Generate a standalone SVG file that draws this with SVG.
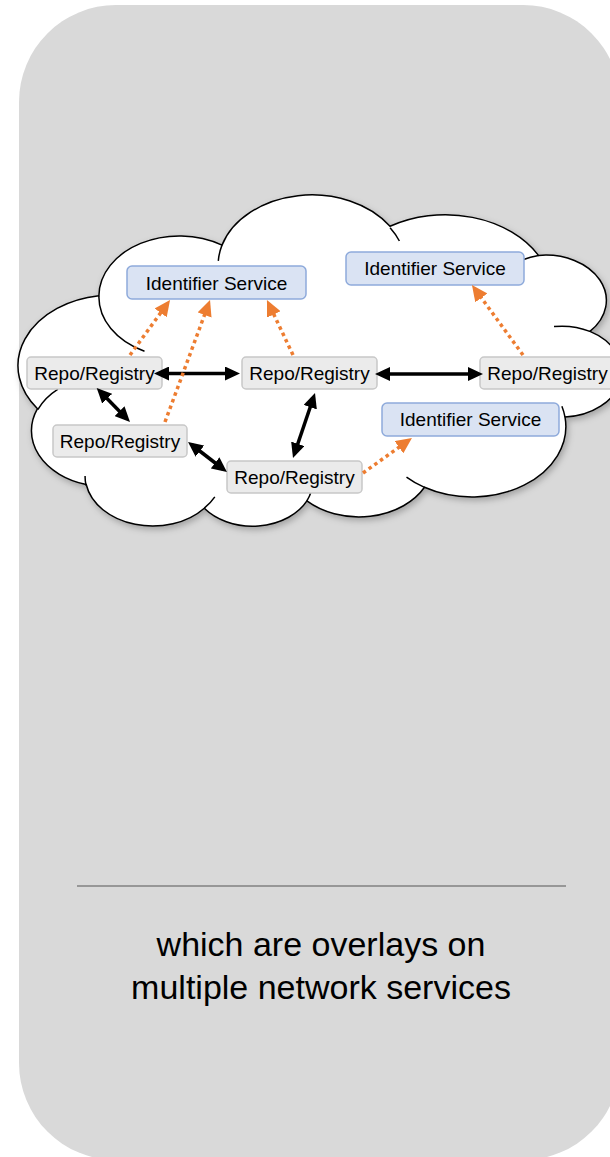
<svg xmlns="http://www.w3.org/2000/svg" width="610" height="1157" viewBox="0 0 610 1157">
  <defs>
    <style>
      .bg { fill: #d9d9d9; }
      .cloud { fill: #ffffff; stroke: #000000; stroke-width: 1.5; }
      .cloud-inner { fill: none; stroke: #000000; stroke-width: 1.5; }
      .repo { fill: #ebebeb; stroke: #c8c8c8; stroke-width: 1.5; }
      .ids { fill: #dae3f3; stroke: #8eaadb; stroke-width: 1.5; }
      .lbl { font-family: "Liberation Sans", Arial, sans-serif; font-size: 19px; fill: #000000; text-anchor: middle; }
      .cap { font-family: "Liberation Sans", Arial, sans-serif; font-size: 34px; fill: #000000; text-anchor: middle; }
      .blk { fill: none; stroke: #000000; stroke-width: 3.5; marker-start: url(#ah); marker-end: url(#ah); }
      .org { fill: none; stroke: #ed7d31; stroke-width: 3.5; stroke-dasharray: 3.5 3.5; marker-end: url(#oh); }
    </style>
    <marker id="ah" markerUnits="userSpaceOnUse" markerWidth="15" markerHeight="14" refX="10" refY="7" orient="auto-start-reverse">
      <path d="M0,0 L15,7 L0,14 z" fill="#000000"/>
    </marker>
    <marker id="oh" markerUnits="userSpaceOnUse" markerWidth="16" markerHeight="15" refX="11" refY="7.5" orient="auto">
      <path d="M0,0 L16,7.5 L0,15 z" fill="#ed7d31"/>
    </marker>
    <filter id="sh" x="-10%" y="-10%" width="120%" height="130%">
      <feDropShadow dx="2" dy="3" stdDeviation="3" flood-color="#000000" flood-opacity="0.25"/>
    </filter>
  </defs>

  <rect class="bg" x="19" y="5" width="601" height="1155" rx="97" ry="97"/>

  <g id="cloud">
    <path class="cloud" filter="url(#sh)" d="M565.0,417.1 A93.9,70.4 0 0 1 424.5,487.3 A74.2,55.7 0 0 1 306.9,500.9 A60.7,45.6 0 0 1 204.3,508.2 A67.6,50.5 0 0 1 86.2,484.5 A74.2,55.7 0 0 1 37.5,408.7 A94.3,70.6 0 0 1 98.9,295.8 A80.5,60.3 0 0 1 222.0,245.1 A93.9,70.6 0 0 1 390.0,226.3 A107.4,80.8 0 0 1 538.5,255.4 A60.7,45.3 0 0 1 589.9,331.4 A60.4,45.6 0 0 1 565.0,417.1 Z"/>
    <path class="cloud-inner" d="M554.0,326.6 A60.4,45.6 0 0 1 589.9,331.4 M522.9,259.8 A60.7,45.3 0 0 1 538.5,255.4 M390.1,227.7 A93.9,70.6 0 0 1 399.4,241.0 M218.3,260.9 A93.9,70.6 0 0 1 222.0,245.1 M144.5,351.3 A80.5,60.3 0 0 1 98.9,295.8 M37.8,409.6 A74.2,55.7 0 0 1 58.0,389.1 M86.1,485.6 A67.6,50.5 0 0 1 85.1,475.9 M214.8,496.9 A67.6,50.5 0 0 1 204.3,508.2 M311.3,491.0 A60.7,45.6 0 0 1 306.9,500.9 M424.5,487.4 A93.9,70.4 0 0 1 406.5,477.1 M561.9,406.2 A93.9,70.4 0 0 1 565.0,417.1"/>
  </g>

  <g id="ids1">
    <rect class="ids" x="127" y="266" width="179" height="33" rx="5"/>
    <text class="lbl" x="216.5" y="289.5">Identifier Service</text>
  </g>
  <g id="ids2">
    <rect class="ids" x="346" y="252" width="178" height="33" rx="5"/>
    <text class="lbl" x="435" y="275">Identifier Service</text>
  </g>
  <g id="ids3">
    <rect class="ids" x="382" y="403" width="177" height="33" rx="5"/>
    <text class="lbl" x="470.5" y="426">Identifier Service</text>
  </g>

  <g id="repo1">
    <rect class="repo" x="27" y="357" width="135" height="32" rx="4"/>
    <text class="lbl" x="94.5" y="379.5">Repo/Registry</text>
  </g>
  <g id="repo2">
    <rect class="repo" x="242" y="357" width="135" height="32" rx="4"/>
    <text class="lbl" x="309.5" y="379.5">Repo/Registry</text>
  </g>
  <g id="repo3">
    <rect class="repo" x="480" y="357" width="135" height="32" rx="4"/>
    <text class="lbl" x="547.5" y="379.5">Repo/Registry</text>
  </g>
  <g id="repo4">
    <rect class="repo" x="53" y="425" width="134" height="32" rx="4"/>
    <text class="lbl" x="120" y="447.5">Repo/Registry</text>
  </g>
  <g id="repo5">
    <rect class="repo" x="227" y="461" width="135" height="32" rx="4"/>
    <text class="lbl" x="294.5" y="483.5">Repo/Registry</text>
  </g>

  <g id="connectors">
    <line class="blk" x1="159" y1="373.5" x2="235" y2="373.5"/>
    <line class="blk" x1="380" y1="374" x2="478" y2="374"/>
    <line class="blk" x1="100.2" y1="391.6" x2="126.5" y2="418.4"/>
    <line class="blk" x1="192" y1="445" x2="223" y2="469"/>
    <line class="blk" x1="313.4" y1="397.7" x2="294.6" y2="453.3"/>
    <line class="org" x1="130" y1="355" x2="167.1" y2="304.0"/>
    <line class="org" x1="165" y1="422" x2="208.3" y2="304.7"/>
    <line class="org" x1="293" y1="355" x2="269.1" y2="304.5"/>
    <line class="org" x1="523" y1="355" x2="474.9" y2="289.0"/>
    <line class="org" x1="363" y1="473" x2="407.9" y2="440.9"/>
  </g>

  <line x1="77" y1="886" x2="566" y2="886" stroke="#808080" stroke-width="1.5"/>
  <text class="cap" x="321" y="956">which are overlays on</text>
  <text class="cap" x="321" y="999">multiple network services</text>
</svg>
